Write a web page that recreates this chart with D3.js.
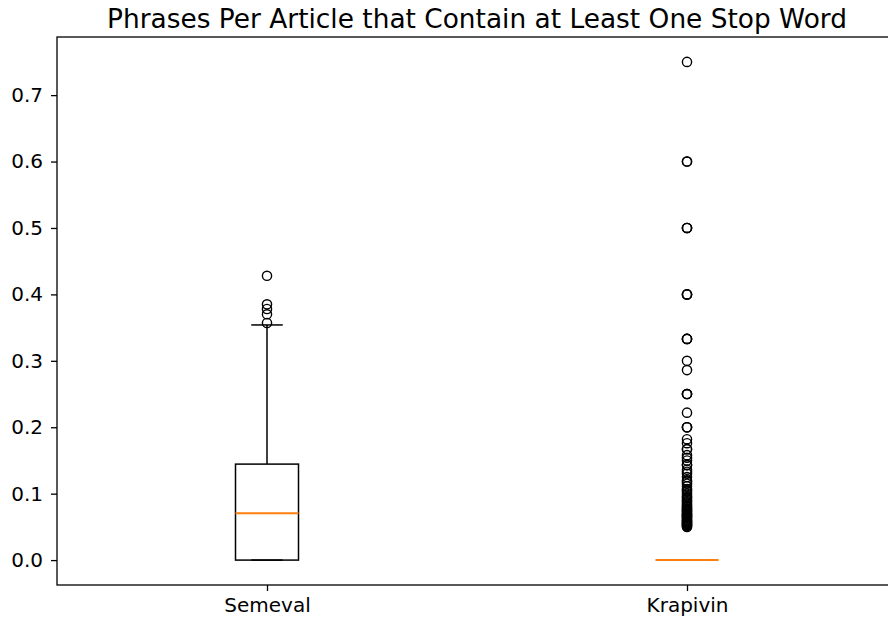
<!DOCTYPE html>
<html>
<head>
<meta charset="utf-8">
<script src="https://cdn.jsdelivr.net/npm/d3@7"></script>
<style>
  body { margin: 0; background: #fff; }
  svg { font-family: "DejaVu Sans", sans-serif; }
</style>
</head>
<body>
<svg id="chart" width="888" height="618"></svg>
<script>
// Boxplot summary values
const CATEGORIES = ["Semeval", "Krapivin"];
const Q1 = [0.0, 0.0];
const MEDIANS = [0.0705, 0.0];
const Q3 = [0.1445, 0.0];
const WHISK_LO = [0.0, 0.0];
const WHISK_HI = [0.354, 0.0];
const OUTLIERS_SEMEVAL = [0.357, 0.370, 0.378, 0.385, 0.428];
const OUTLIERS_KRAPIVIN = [
  0.75, 0.6, 0.6, 0.5, 0.5, 0.5, 0.4, 0.4, 0.4, 0.333, 0.333, 0.333,
  0.3, 0.286, 0.25, 0.25, 0.25, 0.222, 0.2, 0.2, 0.2, 0.182, 0.176, 0.167, 0.167,
  0.158, 0.154, 0.15, 0.143, 0.143, 0.136, 0.133, 0.13, 0.125, 0.12, 0.118, 0.115,
  0.111, 0.107, 0.105, 0.103, 0.1, 0.097, 0.095, 0.093, 0.091, 0.089,
  0.087, 0.085, 0.083, 0.081, 0.08, 0.078, 0.077, 0.075, 0.074, 0.073, 0.071,
  0.07, 0.069, 0.068, 0.067, 0.066, 0.065, 0.064, 0.0625, 0.061,
  0.06, 0.059, 0.058, 0.057, 0.056, 0.055, 0.054, 0.053, 0.052, 0.051, 0.05
];
const OUTLIERS = [OUTLIERS_SEMEVAL, OUTLIERS_KRAPIVIN];
const Y_TICKS = [0.0, 0.1, 0.2, 0.3, 0.4, 0.5, 0.6, 0.7];
const TITLE = "Phrases Per Article that Contain at Least One Stop Word";

const svg = d3.select("#chart");
const m = { left: 57, right: 897, top: 37, bottom: 585 };

const x = d3.scaleLinear().domain([0.5, 2.5]).range([m.left, m.right]);
const y = d3.scaleLinear().domain([-0.0375, 0.7875]).range([m.bottom, m.top]);

const boxHalf = 0.075, capHalf = 0.0375;
const g = svg.append("g");

CATEGORIES.forEach((c, i) => {
  const pos = i + 1;
  const lineStyle = (sel) => sel.attr("stroke", "#000").attr("stroke-width", 1.5).attr("fill", "none");
  // whiskers
  g.append("line").attr("x1", x(pos)).attr("x2", x(pos))
    .attr("y1", y(Q3[i])).attr("y2", y(WHISK_HI[i])).call(lineStyle);
  g.append("line").attr("x1", x(pos)).attr("x2", x(pos))
    .attr("y1", y(Q1[i])).attr("y2", y(WHISK_LO[i])).call(lineStyle);
  // caps
  [WHISK_LO[i], WHISK_HI[i]].forEach((v) => {
    g.append("line").attr("x1", x(pos - capHalf)).attr("x2", x(pos + capHalf))
      .attr("y1", y(v)).attr("y2", y(v)).call(lineStyle);
  });
  // box
  g.append("rect").attr("x", x(pos - boxHalf)).attr("width", x(pos + boxHalf) - x(pos - boxHalf))
    .attr("y", y(Q3[i])).attr("height", y(Q1[i]) - y(Q3[i])).call(lineStyle);
  // median
  g.append("line").attr("x1", x(pos - boxHalf)).attr("x2", x(pos + boxHalf))
    .attr("y1", y(MEDIANS[i])).attr("y2", y(MEDIANS[i]))
    .attr("stroke", "#ff7f0e").attr("stroke-width", 2);
  // fliers
  g.selectAll(null).data(OUTLIERS[i]).enter().append("circle")
    .attr("cx", x(pos)).attr("cy", (d) => y(d)).attr("r", 4.6)
    .attr("fill", "none").attr("stroke", "#000").attr("stroke-width", 1.4);
});

// axes
const yAxis = svg.append("g").attr("transform", `translate(${m.left},0)`)
  .call(d3.axisLeft(y).tickValues(Y_TICKS).tickFormat(d3.format(".1f")).tickSize(6).tickPadding(8));
const xAxis = svg.append("g").attr("transform", `translate(0,${m.bottom})`)
  .call(d3.axisBottom(x).tickValues([1, 2]).tickFormat((d) => CATEGORIES[d - 1]).tickSize(6).tickPadding(7));
[yAxis, xAxis].forEach((a) => {
  a.select(".domain").remove();
  a.selectAll("line").attr("stroke", "#000").attr("stroke-width", 1.3);
  a.selectAll("text").attr("fill", "#000").style("font-size", "20px").style("font-family", "DejaVu Sans");
});

// spines
svg.append("rect").attr("x", m.left).attr("y", m.top).attr("width", m.right - m.left).attr("height", m.bottom - m.top)
  .attr("fill", "none").attr("stroke", "#000").attr("stroke-width", 1.3);

svg.append("text").attr("x", (m.left + m.right) / 2).attr("y", 28)
  .attr("text-anchor", "middle").style("font-size", "26.4px").attr("fill", "#000")
  .text(TITLE);
</script>
</body>
</html>
